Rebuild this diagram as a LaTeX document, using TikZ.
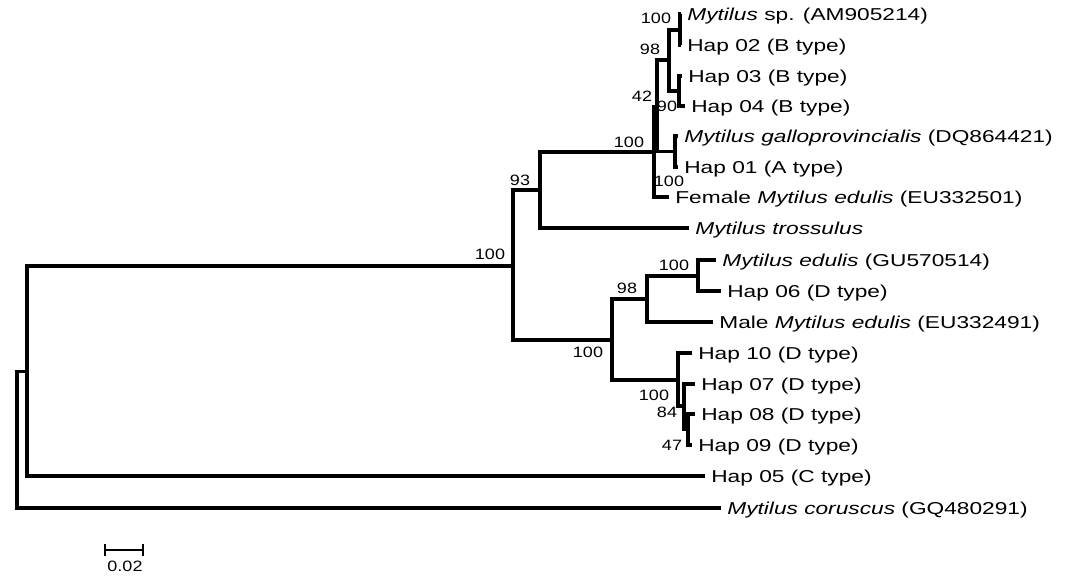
\documentclass[tikz,border=0pt]{standalone}
\usepackage{fontspec}
\setmainfont{Liberation Sans}

\begin{document}
\begin{tikzpicture}[x=1pt,y=-1pt,line join=miter,
  branch/.style={line width=3.2pt},
  taxon/.style={anchor=west,inner xsep=4.6pt,inner ysep=0pt,text height=12.3pt,text depth=0pt,
    xscale=1.32,font=\fontsize{17.2}{20}\selectfont},
  boot/.style={inner sep=0pt,xscale=1.2,font=\fontsize{15}{17}\selectfont}]
  \useasboundingbox (0,0) rectangle (1066,582);
  % internal nodes of the tree
  \coordinate (root) at (17,440);
  \coordinate (nA) at (27,371.5);
  \coordinate (nB) at (513,266);
  \coordinate (nC) at (540,190);
  \coordinate (nD) at (654,152);
  \coordinate (nE) at (657,107);
  \coordinate (nF) at (669,60);
  \coordinate (nG) at (680,30);
  \coordinate (nH) at (679,91);
  \coordinate (nI) at (675,151.5);
  \coordinate (nK) at (612,340);
  \coordinate (nL) at (647,299);
  \coordinate (nM) at (698,276);
  \coordinate (nN) at (678,380);
  \coordinate (nO) at (684,406);
  \coordinate (nP) at (688,429.5);
  % taxa
  \node[taxon] (t1) at (681,14) {\textit{Mytilus} sp. (AM905214)};
  \node[taxon] (t2) at (681,45) {Hap 02 (B type)};
  \node[taxon] (t3) at (682,76) {Hap 03 (B type)};
  \node[taxon] (t4) at (685,106) {Hap 04 (B type)};
  \node[taxon] (t5) at (678,136) {\textit{Mytilus galloprovincialis} (DQ864421)};
  \node[taxon] (t6) at (678,167) {Hap 01 (A type)};
  \node[taxon] (t7) at (669,197) {Female \textit{Mytilus edulis} (EU332501)};
  \node[taxon] (t8) at (689,228) {\textit{Mytilus trossulus}};
  \node[taxon] (t9) at (716,260) {\textit{Mytilus edulis} (GU570514)};
  \node[taxon] (t10) at (721,291) {Hap 06 (D type)};
  \node[taxon] (t11) at (713,322) {Male \textit{Mytilus edulis} (EU332491)};
  \node[taxon] (t12) at (692,353) {Hap 10 (D type)};
  \node[taxon] (t13) at (695,384) {Hap 07 (D type)};
  \node[taxon] (t14) at (695,414) {Hap 08 (D type)};
  \node[taxon] (t15) at (692,445) {Hap 09 (D type)};
  \node[taxon] (t16) at (705,476) {Hap 05 (C type)};
  \node[taxon] (t17) at (721,508) {\textit{Mytilus coruscus} (GQ480291)};
  % branches
  \foreach \p/\c in {root/nA,root/t17.west,nA/nB,nA/t16.west,nB/nC,nB/nK,
      nC/nD,nC/t8.west,nD/nE,nD/t7.west,nE/nF,nE/nI,nF/nG,nF/nH,
      nG/t1.west,nG/t2.west,nH/t3.west,nH/t4.west,nI/t5.west,nI/t6.west,
      nK/nL,nK/nN,nL/nM,nL/t11.west,nM/t9.west,nM/t10.west,
      nN/t12.west,nN/nO,nO/t13.west,nO/nP,nP/t14.west,nP/t15.west}
    \draw[branch] (\p) |- (\c);
  % bootstrap values
  \node[boot] (bG) at (656,18) {100};
  \node[boot] (bF) at (650,49) {98};
  \node[boot] (bE) at (642,96) {42};
  \node[boot] (bH) at (667,106) {90};
  \node[boot] (bD) at (629,142) {100};
  \node[boot] (bI) at (669,181) {100};
  \node[boot] (bC) at (520,180) {93};
  \node[boot] (bB) at (490,254) {100};
  \node[boot] (bL) at (627,288) {98};
  \node[boot] (bM) at (674,265) {100};
  \node[boot] (bK) at (588,352) {100};
  \node[boot] (bN) at (654,395) {100};
  \node[boot] (bO) at (667,412) {84};
  \node[boot] (bP) at (672,445) {47};
  % scale bar
  \coordinate (sbl) at (105,550);
  \coordinate (sbr) at (143,550);
  \draw[line width=2.8pt] (sbl) -- (sbr);
  \draw[line width=2.2pt] (sbl) ++(0,-6) -- ++(0,12);
  \draw[line width=2.2pt] (sbr) ++(0,-6) -- ++(0,12);
  \node[boot] (scl) at (125,566) {0.02};
\end{tikzpicture}
\end{document}
